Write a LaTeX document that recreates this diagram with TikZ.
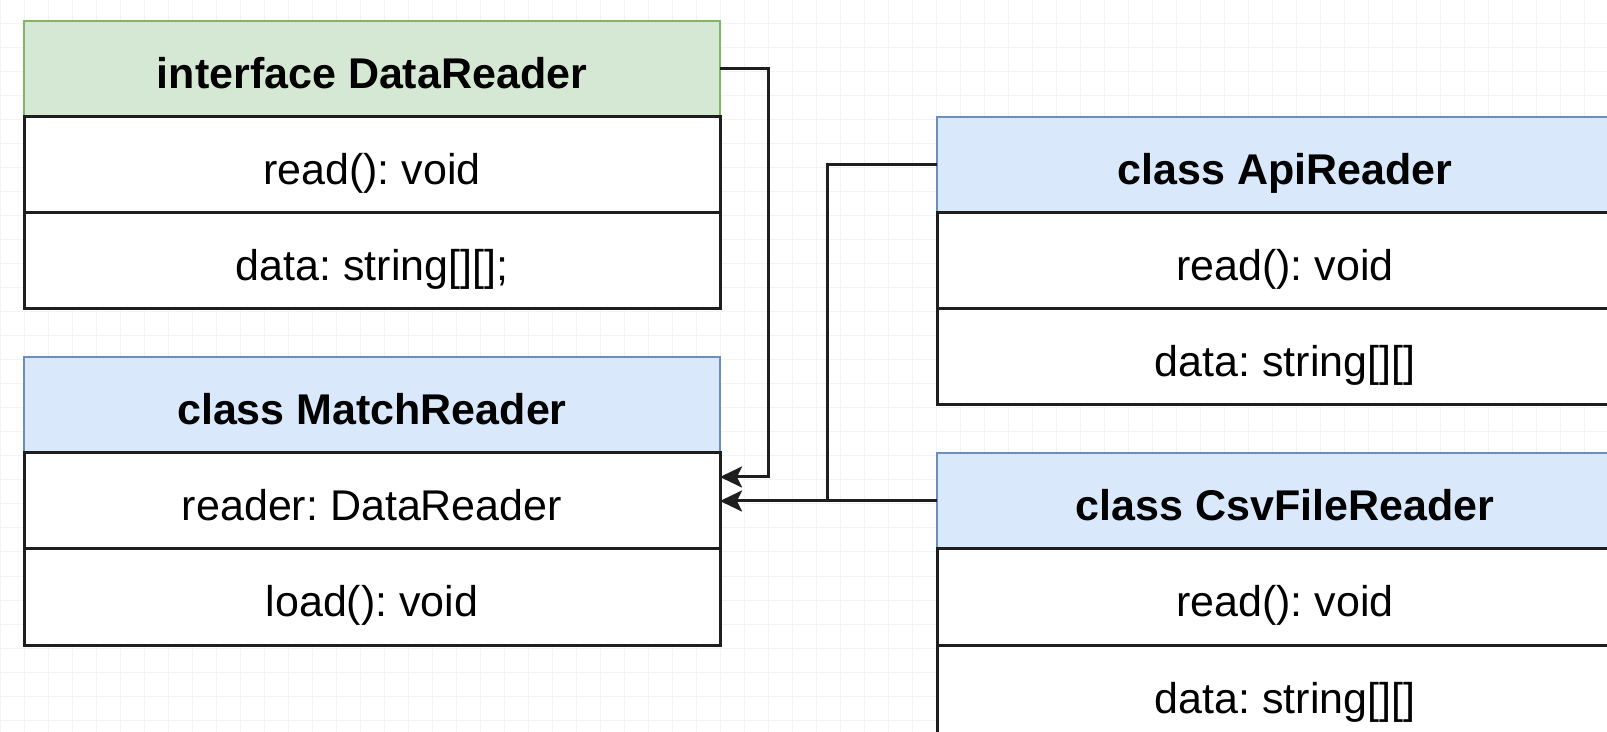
\documentclass[tikz,border=0pt]{standalone}
\usepackage{fontspec}
\setmainfont{Liberation Sans}
\usetikzlibrary{arrows.meta}
\definecolor{grnfill}{HTML}{D5E8D4}
\definecolor{grnline}{HTML}{82B366}
\definecolor{blufill}{HTML}{DAE8FC}
\definecolor{bluline}{HTML}{6C8EBF}
\definecolor{gridc}{HTML}{F3F3F3}
\definecolor{ink}{HTML}{1E1E1E}
\tikzset{
  gridline/.style={draw=gridc, line width=0.5pt},
  cell/.style={draw=ink, line width=1.5pt, fill=white, minimum width=348pt, minimum height=48pt,
    inner sep=0pt, outer sep=0pt, text height=20pt, text depth=0pt,
    font=\fontsize{21.5}{26}\selectfont},
  hdr/.style={cell, line width=1pt, font=\bfseries\fontsize{21.5}{26}\selectfont},
  ghdr/.style={hdr, fill=grnfill, draw=grnline},
  bhdr/.style={hdr, fill=blufill, draw=bluline},
  conn/.style={draw=ink, line width=1.5pt},
  arr/.style={conn, -{Stealth[length=11pt,width=10.5pt,inset=2.5pt]}}
}
\begin{document}
\frenchspacing
\begin{tikzpicture}[x=0.5pt,y=-0.5pt]
\useasboundingbox (0,0) rectangle (1607,732);
\clip (0,0) rectangle (1607,732);
\fill[white] (0,0) rectangle (1607,732);
\foreach \i in {0,24,...,1607} \draw[gridline] (\i,0) -- (\i,732);
\foreach \j in {0,24,...,732} \draw[gridline] (0,\j) -- (1607,\j);

% DataReader
\node[ghdr] (dr) at (372,69) {interface DataReader};
\node[cell] (dr1) at (372,165) {read(): void};
\node[cell] (dr2) at (372,261) {data: string[][];};

% MatchReader
\node[bhdr] (mr) at (372,405) {class MatchReader};
\node[cell] (mr1) at (372,501) {reader: DataReader};
\node[cell] (mr2) at (372,597) {load(): void};

% ApiReader
\node[bhdr] (api) at (1285,165) {class ApiReader};
\node[cell] (api1) at (1285,261) {read(): void};
\node[cell] (api2) at (1285,357) {data: string[][]};

% CsvFileReader
\node[bhdr] (csv) at (1285,501) {class CsvFileReader};
\node[cell] (csv1) at (1285,597) {read(): void};
\node[cell] (csv2) at (1285,693) {data: string[][]};

% connectors
\draw[arr] (dr.east) -- ++(48,0) |- ([yshift=12pt]mr1.east);
\coordinate (junc) at (827,501);
\draw[conn] (api.west) -| (junc);
\draw[arr] (csv.west) -- (mr1.east);
\end{tikzpicture}
\end{document}
